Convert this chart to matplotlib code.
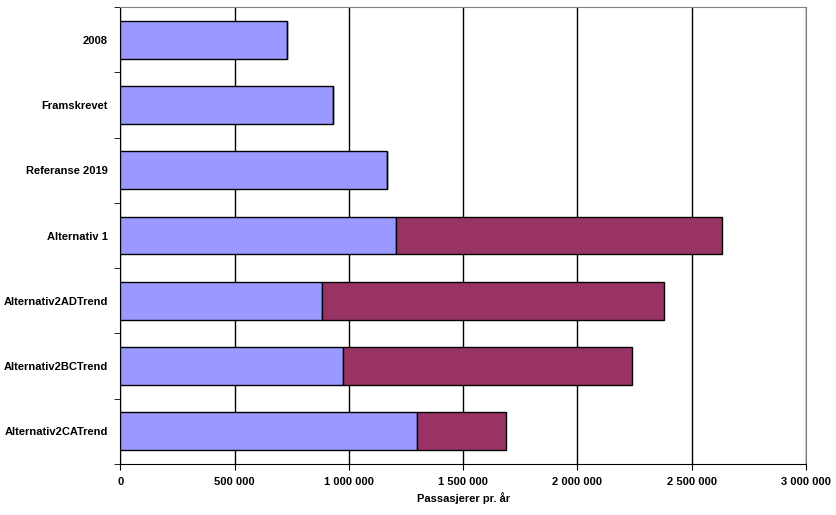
import matplotlib.pyplot as plt
from matplotlib.ticker import FuncFormatter, MultipleLocator
import numpy as np

plt.rcParams['font.family'] = ['Liberation Sans', 'DejaVu Sans']

categories = ["2008", "Framskrevet", "Referanse 2019", "Alternativ 1",
              "Alternativ2ADTrend", "Alternativ2BCTrend", "Alternativ2CATrend"]
base = [727000, 931000, 1165000, 1207000, 883000, 975000, 1296000]
total = [727000, 931000, 1165000, 2631000, 2377000, 2237000, 1686000]
extra = [t - b for t, b in zip(total, base)]

fig = plt.figure(figsize=(8.36, 5.15), dpi=100)
ax = fig.add_axes([0.1441, 0.099, 0.820, 0.8874])

y = np.arange(len(categories))
ax.barh(y, base, height=0.58, color='#9999FF', edgecolor='black', linewidth=1, zorder=3)
ax.barh(y, extra, left=base, height=0.58, color='#993366', edgecolor='black', linewidth=1, zorder=3)

ax.set_ylim(len(categories) - 0.5, -0.5)
ax.set_xlim(0, 3000000)
ax.set_yticks(y)
ax.set_yticklabels(categories, fontsize=8, fontweight='bold')
ax.set_yticks(np.arange(-0.5, len(categories)), minor=True)
ax.tick_params(axis='y', which='major', length=0, pad=9)
ax.tick_params(axis='y', which='minor', length=4, direction='out')

ax.xaxis.set_major_locator(MultipleLocator(500000))
ax.xaxis.set_major_formatter(FuncFormatter(lambda v, p: f"{int(v):,}".replace(",", " ")))
ax.tick_params(axis='x', length=4, direction='out', labelsize=8, pad=5)
for lab in ax.get_xticklabels():
    lab.set_fontweight('bold')
ax.set_xlabel("Passasjerer pr. år", fontsize=8, fontweight='bold', labelpad=4)

ax.grid(axis='x', color='black', linewidth=1, zorder=0)
ax.set_axisbelow(True)
for s in ['top', 'right']:
    ax.spines[s].set_color('#808080')
for s in ['left', 'bottom']:
    ax.spines[s].set_color('black')

fig.savefig('out.png', dpi=100)
